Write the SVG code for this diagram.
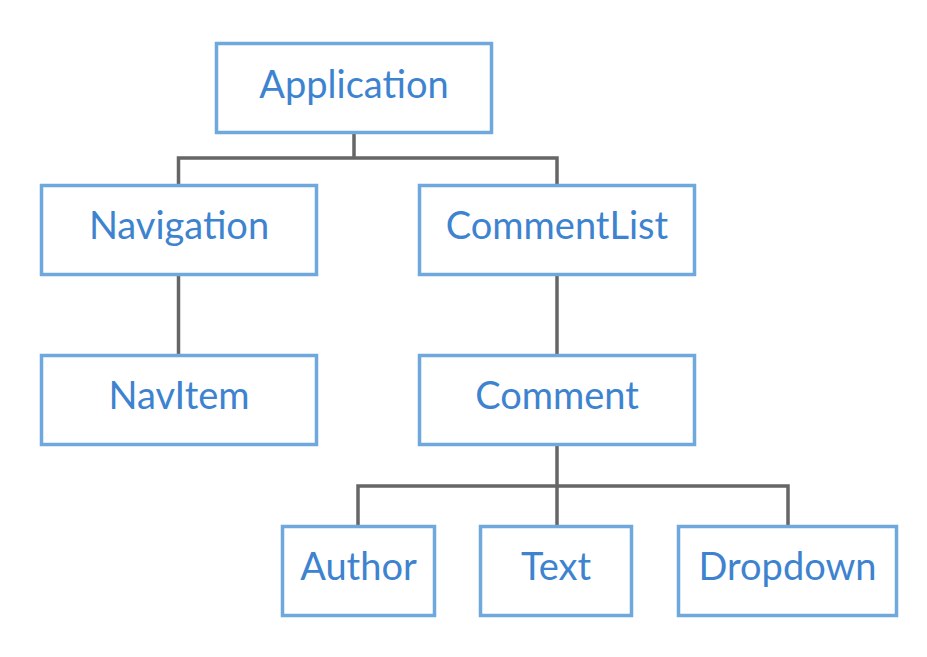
<svg xmlns="http://www.w3.org/2000/svg" width="927" height="657" viewBox="0 0 927 657">
<style>
.box{fill:#fff;stroke:#6fa8dc;stroke-width:3.5}
.lbl{font-family:Lato,"Open Sans",sans-serif;font-size:38px;fill:#3d83cf;text-anchor:middle}
.conn{fill:none;stroke:#666;stroke-width:3.5}
</style>
<rect width="927" height="657" fill="#fff"/>
<g id="connectors">
<path class="conn" d="M354,133 V158 M178.5,184 V158 H557 V184"/>
<path class="conn" d="M178.5,276 V354"/>
<path class="conn" d="M557,276 V354"/>
<path class="conn" d="M557,446 V525 M358,525 V486 H788 V525"/>
</g>
<g id="application"><rect class="box" x="216.5" y="43.5" width="275" height="89"/><text class="lbl" x="354" y="98">Application</text></g>
<g id="navigation"><rect class="box" x="41.5" y="185.5" width="275" height="89"/><text class="lbl" x="179" y="239">Navigation</text></g>
<g id="commentlist"><rect class="box" x="419.5" y="185.5" width="275" height="89"/><text class="lbl" x="557" y="239">CommentList</text></g>
<g id="navitem"><rect class="box" x="41.5" y="355.5" width="275" height="89"/><text class="lbl" x="179" y="409">NavItem</text></g>
<g id="comment"><rect class="box" x="419.5" y="355.5" width="275" height="89"/><text class="lbl" x="557" y="409">Comment</text></g>
<g id="author"><rect class="box" x="282.5" y="526.5" width="152" height="89"/><text class="lbl" x="358.5" y="580">Author</text></g>
<g id="text"><rect class="box" x="480.5" y="526.5" width="151" height="89"/><text class="lbl" x="556" y="580">Text</text></g>
<g id="dropdown"><rect class="box" x="678.5" y="526.5" width="218" height="89"/><text class="lbl" x="787.5" y="580">Dropdown</text></g>
</svg>
